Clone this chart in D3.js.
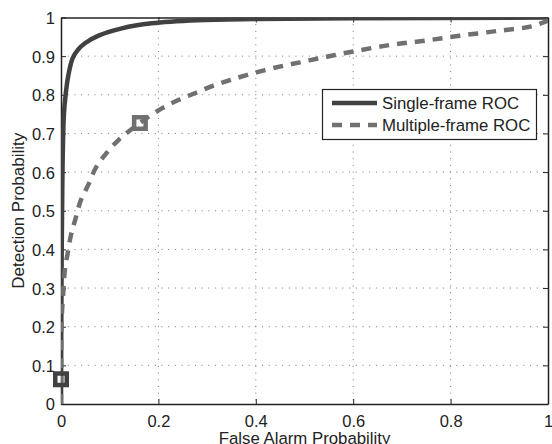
<!DOCTYPE html>
<html>
<head>
<meta charset="utf-8">
<script src="https://cdn.jsdelivr.net/npm/d3@7"></script>
<style>
  body { margin: 0; background: #fff; }
  text { font-family: "Liberation Sans", Arial, sans-serif; fill: #222; }
</style>
</head>
<body>
<svg id="chart" width="552" height="444"></svg>
<script>
// single-frame ROC curve [false alarm, detection]
const singleFrame = [
    [0, 0], [0.001, 0.3], [0.003, 0.6], [0.006, 0.75], [0.0095, 0.8],
    [0.015, 0.85], [0.024, 0.895], [0.035, 0.917], [0.05, 0.934],
    [0.077, 0.953], [0.125, 0.972], [0.186, 0.985], [0.28, 0.993],
    [0.4, 0.996], [0.6, 0.998], [1, 1]
];

// multiple-frame ROC curve
const multiFrame = [
    [0, 0], [0.0005, 0.06], [0.001, 0.21], [0.005, 0.295], [0.008, 0.347],
    [0.0137, 0.39], [0.0205, 0.437], [0.029, 0.476], [0.041, 0.528],
    [0.056, 0.567], [0.071, 0.61], [0.09, 0.644], [0.118, 0.683],
    [0.162, 0.727], [0.207, 0.765], [0.244, 0.788], [0.279, 0.806],
    [0.313, 0.824], [0.347, 0.838], [0.381, 0.851], [0.419, 0.864],
    [0.456, 0.875], [0.491, 0.884], [0.528, 0.894], [0.563, 0.903],
    [0.6, 0.912], [0.676, 0.929], [0.747, 0.94], [0.819, 0.953],
    [0.895, 0.965], [0.966, 0.977], [1, 0.992]
];

// operating points marked with squares
const singleMarker = [0.0, 0.064];
const multiMarker = [0.162, 0.727];

const xTicks = [0, 0.2, 0.4, 0.6, 0.8, 1];
const yTicks = [0, 0.1, 0.2, 0.3, 0.4, 0.5, 0.6, 0.7, 0.8, 0.9, 1];

const legendNames = ["Single-frame ROC", "Multiple-frame ROC"];

const margin = { top: 17.5, right: 4, bottom: 40, left: 61 };
const svg = d3.select("#chart");
const width = +svg.attr("width") - margin.left - margin.right;
const height = +svg.attr("height") - margin.top - margin.bottom;
const g = svg.append("g").attr("transform", "translate(" + margin.left + "," + margin.top + ")");

const darkColor = "#414141";
const grayColor = "#707070";

let xScale = d3.scaleLinear().domain([0, 1]).range([0, width]);
let yScale = d3.scaleLinear().domain([0, 1]).range([height, 0]);

// dotted grid
g.append("g").selectAll("line")
    .data(xTicks.slice(1, -1))
    .enter().append("line")
    .attr("x1", d => xScale(d)).attr("x2", d => xScale(d))
    .attr("y1", 0).attr("y2", height)
    .attr("stroke", "#777").attr("stroke-width", 1)
    .attr("stroke-dasharray", "1,5.7");
g.append("g").selectAll("line")
    .data(yTicks.slice(1, -1))
    .enter().append("line")
    .attr("x1", 0).attr("x2", width)
    .attr("y1", d => yScale(d)).attr("y2", d => yScale(d))
    .attr("stroke", "#777").attr("stroke-width", 1)
    .attr("stroke-dasharray", "1,5.7");

// axes with inward ticks, box style
let xAxis = d3.axisBottom(xScale).tickValues(xTicks).tickSizeInner(-5).tickSizeOuter(0)
    .tickFormat(d3.format("~g"));
let yAxis = d3.axisLeft(yScale).tickValues(yTicks).tickSizeInner(-5).tickSizeOuter(0)
    .tickFormat(d3.format("~g"));

let xAxisGroup = g.append("g").attr("transform", "translate(0," + height + ")").call(xAxis);
let yAxisGroup = g.append("g").call(yAxis);
let xTop = g.append("g").call(d3.axisTop(xScale).tickValues(xTicks).tickSizeInner(-5).tickSizeOuter(0).tickFormat(""));
let yRight = g.append("g").attr("transform", "translate(" + width + ",0)")
    .call(d3.axisRight(yScale).tickValues(yTicks).tickSizeInner(-5).tickSizeOuter(0).tickFormat(""));

[xAxisGroup, yAxisGroup, xTop, yRight].forEach(a => {
    a.selectAll(".domain").attr("stroke", "#222").attr("stroke-width", 1.5);
    a.selectAll(".tick line").attr("stroke", "#222");
    a.selectAll("text").attr("font-size", 16.5).attr("fill", "#222")
        .attr("font-family", "Liberation Sans, Arial, sans-serif");
});
xAxisGroup.selectAll(".tick text").attr("y", 23).attr("dy", 0);
yAxisGroup.selectAll(".tick text").attr("x", -6).attr("dy", "0.36em");

// clip lines to the plot box
svg.append("defs").append("clipPath").attr("id", "plotClip")
    .append("rect").attr("x", 0).attr("y", 0).attr("width", width).attr("height", height);

let line = d3.line()
    .curve(d3.curveCatmullRom.alpha(0.5))
    .x(d => xScale(d[0]))
    .y(d => yScale(d[1]));

let lines = g.append("g").attr("clip-path", "url(#plotClip)");
lines.append("path")
    .datum(singleFrame)
    .attr("fill", "none")
    .attr("stroke", darkColor)
    .attr("stroke-width", 4.5)
    .attr("stroke-linejoin", "round")
    .attr("d", line);
lines.append("path")
    .datum(multiFrame)
    .attr("fill", "none")
    .attr("stroke", grayColor)
    .attr("stroke-width", 4.5)
    .attr("stroke-dasharray", "10,8")
    .attr("d", line);

// square markers
let markerSize = 11.5;
[[singleMarker, darkColor], [multiMarker, grayColor]].forEach(m => {
    g.append("rect")
        .attr("x", xScale(m[0][0]) - markerSize / 2)
        .attr("y", yScale(m[0][1]) - markerSize / 2)
        .attr("width", markerSize)
        .attr("height", markerSize)
        .attr("fill", "none")
        .attr("stroke", m[1])
        .attr("stroke-width", 4.5);
});

// axis labels
svg.append("text")
    .attr("x", margin.left + width / 2)
    .attr("y", 444)
    .attr("text-anchor", "middle")
    .attr("font-size", 16.8)
    .text("False Alarm Probability");
svg.append("text")
    .attr("transform", "translate(23.5," + (margin.top + height / 2) + ") rotate(-90)")
    .attr("text-anchor", "middle")
    .attr("font-size", 17)
    .text("Detection Probability");

// legend
let legend = svg.append("g").attr("transform", "translate(322.5,89.5)");
legend.append("rect")
    .attr("width", 214).attr("height", 50)
    .attr("fill", "#fff").attr("stroke", "#222").attr("stroke-width", 1.2);
let legendStyles = [
    { color: darkColor, dash: null },
    { color: grayColor, dash: "10,8" }
];
for (let i = 0; i < legendNames.length; i++) {
    let yy = 13.5 + i * 22;
    legend.append("line")
        .attr("x1", 9.5).attr("x2", 54.5)
        .attr("y1", yy).attr("y2", yy)
        .attr("stroke", legendStyles[i].color)
        .attr("stroke-width", 4.5)
        .attr("stroke-dasharray", legendStyles[i].dash);
    legend.append("text")
        .attr("x", 59.5).attr("y", yy)
        .attr("dy", "0.36em")
        .attr("font-size", 16.8)
        .text(legendNames[i]);
}
</script>
</body>
</html>
